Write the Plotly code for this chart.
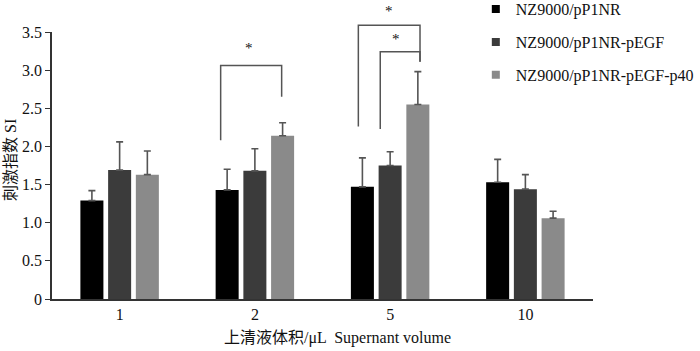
import plotly.graph_objects as go

categories = ["1", "2", "5", "10"]
series_names = ["NZ9000/pP1NR", "NZ9000/pP1NR-pEGF", "NZ9000/pP1NR-pEGF-p40"]
si_pP1NR = [1.29, 1.43, 1.47, 1.53]
si_pEGF = [1.69, 1.68, 1.75, 1.44]
si_p40 = [1.63, 2.14, 2.55, 1.06]
err_pP1NR = [0.13, 0.27, 0.38, 0.30]
err_pEGF = [0.37, 0.29, 0.18, 0.19]
err_p40 = [0.31, 0.17, 0.43, 0.09]
y_tickvals = [0, 0.5, 1.0, 1.5, 2.0, 2.5, 3.0, 3.5]
y_ticktext = ["0", "0.5", "1.0", "1.5", "2.0", "2.5", "3.0", "3.5"]

# significance brackets: (left x index, right x index, top value, left leg bottom, right leg bottom)
brackets = [
    (0.747, 1.198, 3.06, 2.08, 2.65),
    (1.765, 2.221, 3.59, 2.26, 3.11),
    (1.927, 2.221, 3.24, 2.23, 3.11),
]
# stars: (x index, value)
stars = [(0.96, 3.29), (1.995, 3.78), (2.04, 3.41)]

colors = ["#000000", "#3b3b3b", "#8a8a8a"]
FONT = "Liberation Serif, Times New Roman, Noto Sans CJK SC, serif"
YMAX = 3.5
NCAT = len(categories)

fig = go.Figure()
for name, vals, errs, col in zip(series_names, [si_pP1NR, si_pEGF, si_p40],
                                 [err_pP1NR, err_pEGF, err_p40], colors):
    fig.add_trace(go.Bar(
        x=categories, y=vals, name=name, marker_color=col,
        marker_line_width=0, showlegend=False,
        error_y=dict(type="data", array=errs, arrayminus=[0] * len(errs),
                     symmetric=False, color="#555555", thickness=1.6, width=3.5),
    ))
for i, (name, col) in enumerate(zip(series_names, colors)):
    fig.add_trace(go.Scatter(
        x=[None], y=[None], mode="markers", name=name, legendgroup=f"g{i}",
        marker=dict(symbol="square", size=8, color=col),
    ))

def px_x(idx):
    return (idx + 0.5) / NCAT

def px_y(v):
    return v / YMAX

line_style = dict(color="#555555", width=1.5)
for xl, xr, top, lb, rb in brackets:
    path = (f"M {px_x(xl)},{px_y(lb)} L {px_x(xl)},{px_y(top)} "
            f"L {px_x(xr)},{px_y(top)} L {px_x(xr)},{px_y(rb)}")
    fig.add_shape(type="path", path=path, xref="paper", yref="paper", line=line_style)
for sx, sy in stars:
    fig.add_annotation(x=px_x(sx), y=px_y(sy), xref="paper", yref="paper",
                       xanchor="center", yanchor="middle",
                       text="*", showarrow=False, font=dict(size=15, color="#111111", family=FONT))

L, R, T, B = 52, 107, 32, 52
W, H = 700, 351
pw, ph = W - L - R, H - T - B

def paper_x(px):
    return (px - L) / pw

def paper_y(py):
    return (H - B - py) / ph

fig.add_annotation(x=paper_x(337), y=paper_y(338), xref="paper", yref="paper",
                   xanchor="center", yanchor="middle",
                   text="上清液体积/μL  Supernant volume",
                   showarrow=False, font=dict(size=16, color="#111111", family=FONT))
fig.add_annotation(x=paper_x(10), y=paper_y(160), xref="paper", yref="paper",
                   xanchor="center", yanchor="middle", textangle=-90,
                   text="刺激指数 SI", showarrow=False,
                   font=dict(size=16, color="#111111", family=FONT))

fig.update_layout(
    width=W, height=H, margin=dict(l=L, r=R, t=T, b=B, autoexpand=False),
    plot_bgcolor="white", paper_bgcolor="white",
    barmode="group", bargap=0.385, bargroupgap=0.17,
    font=dict(family=FONT, size=16, color="#111111"),
    legend=dict(x=0.7834, y=1.149, xanchor="left", yanchor="top",
                font=dict(size=16, family=FONT, color="#111111"),
                bgcolor="rgba(0,0,0,0)", itemwidth=30, tracegroupgap=9,
                traceorder="grouped"),
    xaxis=dict(type="category", showline=True, linecolor="#333333", linewidth=1.5,
               ticks="", tickfont=dict(size=16), showgrid=False, zeroline=False),
    yaxis=dict(range=[0, YMAX], tickvals=y_tickvals, ticktext=y_ticktext,
               showline=True, linecolor="#333333", linewidth=1.5, ticks="outside",
               ticklen=5, tickcolor="#333333", tickwidth=1.2, tickfont=dict(size=16),
               showgrid=False, zeroline=False),
)
fig.write_html("out.html")
